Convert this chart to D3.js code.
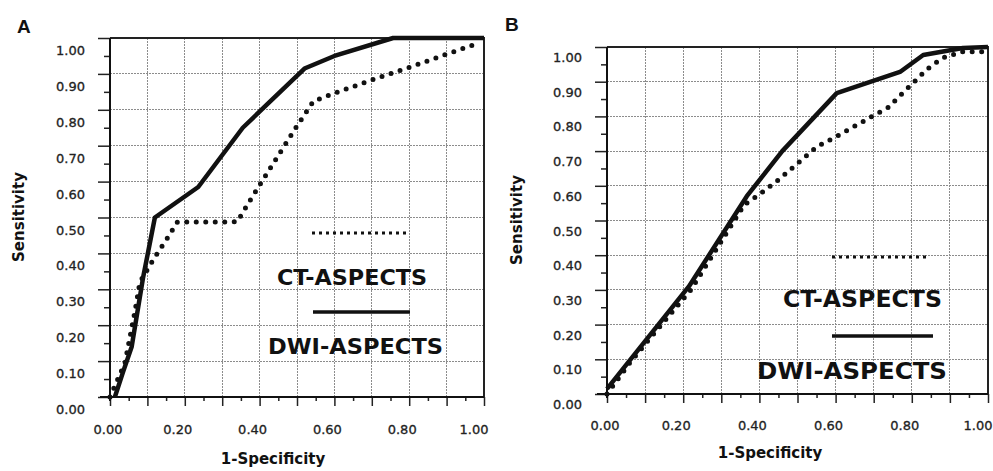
<!DOCTYPE html>
<html>
<head>
<meta charset="utf-8">
<script src="https://cdn.jsdelivr.net/npm/d3@7"></script>
<style>
  body { margin: 0; background: #fff; }
  svg { display: block; }
</style>
</head>
<body>
<svg></svg>
<script>
// данные ROC-кривых
const xTickLabels = ["0.00", "0.20", "0.40", "0.60", "0.80", "1.00"];
const yTickLabels = ["0.00", "0.10", "0.20", "0.30", "0.40", "0.50", "0.60", "0.70", "0.80", "0.90", "1.00"];
const seriesNames = ["CT-ASPECTS", "DWI-ASPECTS"];
const panelNames = ["A", "B"];

// панель A
const ctA = [[0, 0], [0.04, 0.095], [0.067, 0.24], [0.08, 0.32], [0.12, 0.39], [0.152, 0.44],
  [0.18, 0.487], [0.34, 0.488], [0.37, 0.54], [0.43, 0.64], [0.5, 0.755], [0.544, 0.824],
  [0.6, 0.846], [0.7, 0.883], [0.8, 0.918], [0.9, 0.955], [0.97, 0.98]];
const dwiA = [[0.013, 0], [0.035, 0.07], [0.058, 0.14], [0.088, 0.33], [0.12, 0.5],
  [0.236, 0.585], [0.355, 0.75], [0.52, 0.915], [0.6, 0.95], [0.757, 1.0], [1.0, 1.0]];

// панель B
const ctB = [[0, 0], [0.06, 0.09], [0.12, 0.17], [0.22, 0.3], [0.36, 0.545], [0.4, 0.575],
  [0.45, 0.617], [0.55, 0.712], [0.6, 0.741], [0.74, 0.827], [0.76, 0.85], [0.84, 0.936],
  [0.88, 0.968], [0.93, 0.986], [0.99, 0.986]];
const dwiB = [[0, 0.015], [0.215, 0.31], [0.367, 0.57], [0.46, 0.7], [0.603, 0.867],
  [0.769, 0.928], [0.83, 0.977], [0.934, 0.997], [1.0, 1.0]];

const svg = d3.select("svg").attr("width", 993).attr("height", 471);

function drawPanel(p) {
    const x = d3.scaleLinear().domain([0, 1]).range([p.left, p.right]);
    const y = d3.scaleLinear().domain([0, 1]).range([p.bottom, p.top]);
    const g = svg.append("g");

    // сетка
    const grid = d3.range(1, 10).map(d => d / 10);
    const gridG = g.append("g")
        .style("stroke", "#8c8c8c").style("stroke-width", 1)
        .style("stroke-dasharray", "1.5,1.5").style("shape-rendering", "crispEdges");
    gridG.selectAll("line.gx").data(grid).join("line").attr("class", "gx")
        .attr("x1", d => x(d)).attr("x2", d => x(d))
        .attr("y1", p.top).attr("y2", p.bottom);
    gridG.selectAll("line.gy").data(grid).join("line").attr("class", "gy")
        .attr("x1", p.left).attr("x2", p.right)
        .attr("y1", d => y(d)).attr("y2", d => y(d));

    // рамка сверху и справа
    g.append("path")
        .attr("d", `M${p.left},${p.top}H${p.right}V${p.bottom}`)
        .style("fill", "none").style("stroke", "#222").style("stroke-width", 2);

    // оси с большими и малыми засечками
    const major = d3.range(0, 11).map(d => d / 10);
    const minor = d3.range(0, 10).map(d => d / 10 + 0.05);
    const axisStyle = sel => {
        sel.select(".domain").remove();
        sel.selectAll("line").style("stroke", "#222").style("stroke-width", 1.5);
        sel.selectAll("text").remove();
    };
    g.append("g").attr("transform", `translate(${p.left},0)`)
        .call(d3.axisLeft(y).tickValues(major).tickSize(12)).call(axisStyle);
    g.append("g").attr("transform", `translate(${p.left},0)`)
        .call(d3.axisLeft(y).tickValues(minor).tickSize(6)).call(axisStyle);
    g.append("g").attr("transform", `translate(0,${p.bottom})`)
        .call(d3.axisBottom(x).tickValues(major).tickSize(9)).call(axisStyle);
    g.append("g").attr("transform", `translate(0,${p.bottom})`)
        .call(d3.axisBottom(x).tickValues(minor).tickSize(4)).call(axisStyle);
    g.append("line")
        .attr("x1", p.left - 10).attr("x2", p.right)
        .attr("y1", p.bottom).attr("y2", p.bottom)
        .style("stroke", "#111").style("stroke-width", 2);
    g.append("line")
        .attr("x1", p.left).attr("x2", p.left)
        .attr("y1", p.top).attr("y2", p.bottom + 4)
        .style("stroke", "#111").style("stroke-width", 2);

    // подписи засечек
    g.selectAll("text.yl").data(yTickLabels).join("text").attr("class", "yl")
        .attr("x", p.left - 25)
        .attr("y", (d, i) => y(i / 10) + p.yLabelDy)
        .attr("text-anchor", "end")
        .style("font-family", "DejaVu Sans").style("font-size", "13px").style("fill", "#222")
        .style("stroke", "#222").style("stroke-width", 0.3)
        .text(d => d);
    g.selectAll("text.xl").data(xTickLabels).join("text").attr("class", "xl")
        .attr("x", (d, i) => x(i / 5) - (i ? (i === 5 ? 10 : 7) : 2))
        .attr("y", p.bottom + p.xLabelDy)
        .attr("text-anchor", "middle")
        .style("font-family", "DejaVu Sans").style("font-size", "13px").style("fill", "#222")
        .style("stroke", "#222").style("stroke-width", 0.3)
        .text(d => d);

    // кривые
    const line = d3.line().x(d => x(d[0])).y(d => y(d[1]));
    g.append("path").datum(p.ct).attr("d", line)
        .style("fill", "none").style("stroke", "#111").style("stroke-width", 5)
        .style("stroke-linecap", "round").style("stroke-dasharray", "0,9.5");
    g.append("path").datum(p.dwi).attr("d", line)
        .style("fill", "none").style("stroke", "#111").style("stroke-width", 4.5)
        .style("stroke-linejoin", "round");

    // легенда
    const L = p.legend;
    g.append("line").attr("x1", L.dot[0]).attr("x2", L.dot[1]).attr("y1", L.dot[2]).attr("y2", L.dot[2])
        .style("stroke", "#111").style("stroke-width", 3).style("stroke-dasharray", "3,4");
    g.append("line").attr("x1", L.solid[0]).attr("x2", L.solid[1]).attr("y1", L.solid[2]).attr("y2", L.solid[2])
        .style("stroke", "#111").style("stroke-width", 3.5);
    [L.ctText, L.dwiText].forEach((t, i) => {
        g.append("text")
            .attr("x", t[0]).attr("y", t[1])
            .attr("textLength", t[2]).attr("lengthAdjust", "spacingAndGlyphs")
            .style("font-family", "DejaVu Sans").style("font-weight", "bold")
            .style("font-size", t[3] + "px").style("fill", "#111")
            .text(seriesNames[i]);
    });

    // подписи осей и буква панели
    g.append("text")
        .attr("transform", `translate(${p.yTitle[0]},${p.yTitle[1]}) rotate(-90)`)
        .attr("text-anchor", "middle")
        .style("font-family", "DejaVu Sans").style("font-weight", "bold").style("font-size", "15px")
        .style("fill", "#111")
        .text("Sensitivity");
    g.append("text")
        .attr("x", p.xTitle[0]).attr("y", p.xTitle[1])
        .attr("text-anchor", "middle")
        .style("font-family", "DejaVu Sans").style("font-weight", "bold").style("font-size", "15px")
        .style("fill", "#111")
        .text("1-Specificity");
    g.append("text")
        .attr("x", p.letter[0]).attr("y", p.letter[1])
        .style("font-family", "Liberation Sans").style("font-weight", "bold").style("font-size", "19px")
        .style("fill", "#111")
        .text(p.name);
}

drawPanel({
    name: panelNames[0], ct: ctA, dwi: dwiA,
    left: 110, right: 484, top: 38, bottom: 397,
    yLabelDy: 17, xLabelDy: 37,
    yTitle: [24, 217], xTitle: [273, 464], letter: [17, 33],
    legend: { dot: [312, 408, 233], solid: [313, 410, 312],
              ctText: [277, 285, 150, 22], dwiText: [268, 354, 175, 22] }
});
drawPanel({
    name: panelNames[1], ct: ctB, dwi: dwiB,
    left: 607, right: 988, top: 47, bottom: 394,
    yLabelDy: 15, xLabelDy: 36,
    yTitle: [522, 220], xTitle: [770, 458], letter: [505, 31],
    legend: { dot: [832, 930, 257], solid: [832, 933, 336],
              ctText: [783, 307, 159, 23], dwiText: [757, 379, 190, 23] }
});
</script>
</body>
</html>
